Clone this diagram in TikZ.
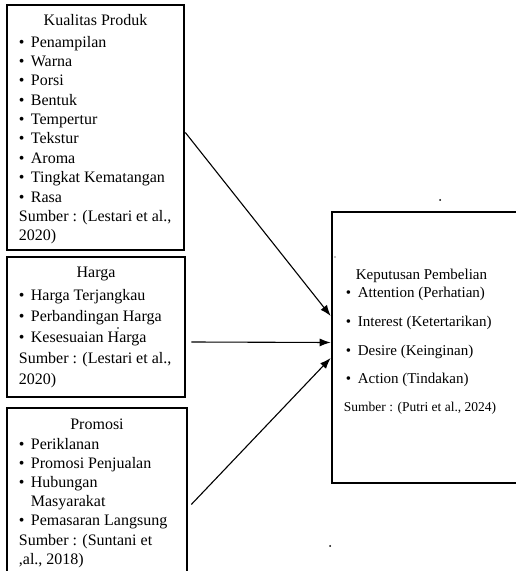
\documentclass[tikz,border=0pt]{standalone}
\usepackage{fontspec}
\setmainfont{Liberation Serif}
\usetikzlibrary{arrows.meta,positioning}

\newcommand{\btr}{\makebox[12pt][l]{\textbullet}}

\tikzset{
  kotak/.style={draw,line width=2.6pt,inner sep=0pt},
  judul/.style={font=\fontsize{16}{19}\selectfont,inner sep=0pt,anchor=base},
  isi/.style={font=\fontsize{16}{19.4}\selectfont,inner sep=0pt,anchor=north west,align=left},
  panah/.style={-{Latex[length=11pt,width=8pt]},line width=1.1pt},
}

\begin{document}
\begin{tikzpicture}[x=1pt,y=1pt]
  \useasboundingbox (0,0) rectangle (516,571);

  % kotak variabel
  \node[kotak,minimum width=177pt,minimum height=245pt] (kualitas) at (95.5,443.5) {};
  \node[kotak,minimum width=178pt,minimum height=140pt] (harga) at (96,244) {};
  \node[kotak,minimum width=180pt,minimum height=173pt] (promosi) at (97,76.5) {};
  \node[kotak,minimum width=193pt,minimum height=271pt] (keputusan) at (428.5,223.5) {};

  % isi kotak
  \node[judul] (jkualitas) at ([yshift=-22pt]kualitas.north) {Kualitas Produk};
  \node[isi] (lkualitas) at ([xshift=13pt,yshift=-32pt]kualitas.north west)
    {\btr Penampilan\\ \btr Warna\\ \btr Porsi\\ \btr Bentuk\\ \btr Tempertur\\
     \btr Tekstur\\ \btr Aroma\\ \btr Tingkat Kematangan\\ \btr Rasa\\
     Sumber : (Lestari et al.,\\ 2020)};

  \node[judul] (jharga) at ([yshift=-22pt]harga.north) {Harga};
  \node[isi,font=\fontsize{16}{21.2}\selectfont] (lharga) at ([xshift=13pt,yshift=-33pt]harga.north west)
    {\btr Harga Terjangkau\\ \btr Perbandingan Harga\\ \btr Kesesuaian Harga\\
     Sumber : (Lestari et al.,\\ 2020)};

  \node[judul] (jpromosi) at ([yshift=-23pt]promosi.north) {Promosi};
  \node[isi,font=\fontsize{16}{19.2}\selectfont] (lpromosi) at ([xshift=13pt,yshift=-31pt]promosi.north west)
    {\btr Periklanan\\ \btr Promosi Penjualan\\ \btr Hubungan\\ \hspace*{12pt}Masyarakat\\
     \btr Pemasaran Langsung\\ Sumber : (Suntani et\\ ,al., 2018)};

  \node[isi,font=\fontsize{15}{18}\selectfont] (lkeputusan) at ([xshift=13pt,yshift=-58pt]keputusan.north west)
    {\hspace*{12pt}Keputusan Pembelian\\
     \hspace*{2pt}\btr Attention (Perhatian)\\[11pt]
     \hspace*{2pt}\btr Interest (Ketertarikan)\\[11pt]
     \hspace*{2pt}\btr Desire (Keinginan)\\[10pt]
     \hspace*{2pt}\btr Action (Tindakan)\\[10pt]
     {\fontsize{13.5}{18}\selectfont Sumber : (Putri et al., 2024)}};

  % panah
  \draw[panah] ([yshift=-5pt]kualitas.east) -- ([yshift=31.5pt]keputusan.west);
  \draw[panah] ([xshift=5pt,yshift=-15pt]harga.east) -- ([yshift=5pt]keputusan.west);
  \draw[panah] ([xshift=3pt,yshift=-10pt]promosi.east) -- ([yshift=-10.5pt]keputusan.west);

  % titik kecil
  \fill (440,371) circle (1pt);
  \fill (335,314) circle (0.6pt);
  \fill (118,243) circle (0.9pt);
  \fill (330,25) circle (1pt);
\end{tikzpicture}
\end{document}
